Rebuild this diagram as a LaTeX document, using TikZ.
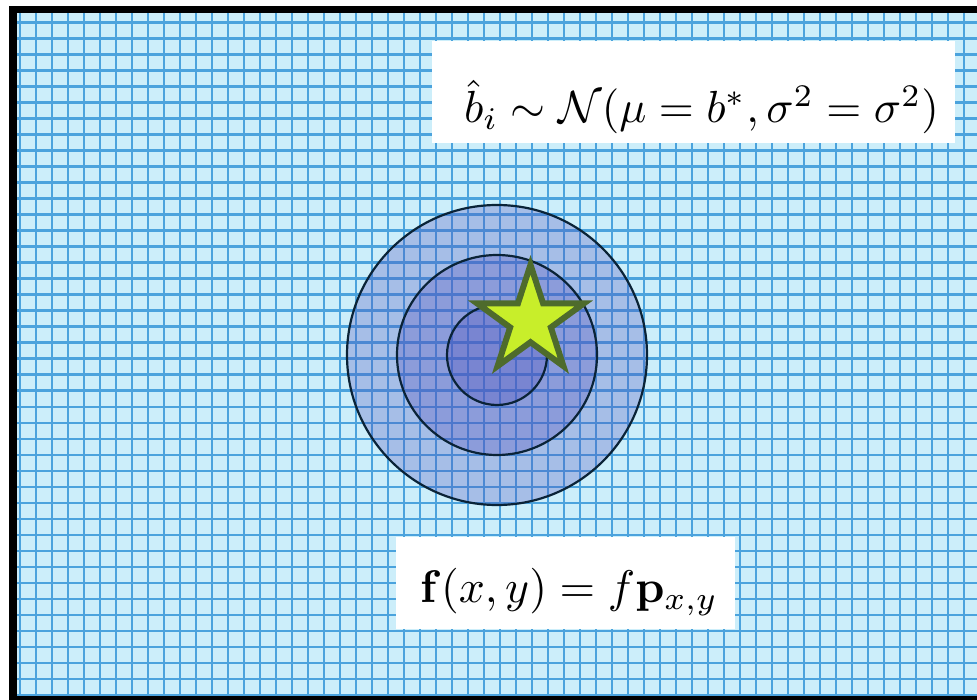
\documentclass[tikz,border=0pt]{standalone}
\usepackage{graphicx}
\definecolor{gridbg}{RGB}{204,238,250}
\definecolor{gridln}{RGB}{75,163,221}
\definecolor{ringfill}{RGB}{80,80,190}
\definecolor{ringline}{RGB}{10,35,55}
\definecolor{starfill}{RGB}{200,238,42}
\definecolor{starline}{RGB}{78,107,44}
\begin{document}
\begin{tikzpicture}[x=1pt,y=-1pt,
  gridline/.style={draw=gridln,line width=2.4pt},
  ring/.style={fill=ringfill,fill opacity=0.3,draw=ringline,draw opacity=1,line width=2.2pt},
  starsty/.style={fill=starfill,draw=starline,line width=6pt,line join=miter,miter limit=10},
  whitebox/.style={fill=white,draw=none,inner sep=0pt,outer sep=0pt},
  formula/.style={inner sep=0pt,outer sep=0pt}]
\useasboundingbox (0,0) rectangle (977,700);
\clip (0,0) rectangle (977,700);
\fill[white] (0,0) rectangle (977,700);
% frame and grid paper
\fill[black] (9,6) rectangle (990,710);
\fill[gridbg] (17,13.3) rectangle (985,695.5);
\begin{scope}
  \clip (17,13.3) rectangle (985,695.5);
  \foreach \i in {0,...,60} \draw[gridline] (20+16*\i,0) -- (20+16*\i,700);
  \foreach \j in {0,...,42} \draw[gridline] (0,22.7+16*\j) -- (990,22.7+16*\j);
\end{scope}
% concentric rings
\coordinate (ctr) at (497,355);
\path[ring] (ctr) circle [radius=150];
\path[ring] (ctr) circle [radius=100];
\path[ring] (ctr) circle [radius=50];
% star
\coordinate (starc) at (530.5,320.8);
\draw[starsty,shift={(starc)}] (270:56) -- (306:21.4) -- (342:56) -- (18:21.4) -- (54:56) -- (90:21.4) -- (126:56) -- (162:21.4) -- (198:56) -- (234:21.4) -- cycle;
% formula boxes
\node[whitebox,minimum width=523pt,minimum height=102pt] (box1) at (693.5,92) {};
\node[formula,anchor=base west] (f1) at (464,123) {\scalebox{4.5}{$\hat{b}_i \sim \mathcal{N}(\mu = b^*, \sigma^2 = \sigma^2)$}};
\node[whitebox,minimum width=339pt,minimum height=92pt] (box2) at (565.5,583) {};
\node[formula,anchor=base west] (f2) at (420,602.5) {\scalebox{4.57}{$\mathbf{f}(x,y) = f\mathbf{p}_{x,y}$}};
\end{tikzpicture}
\end{document}
